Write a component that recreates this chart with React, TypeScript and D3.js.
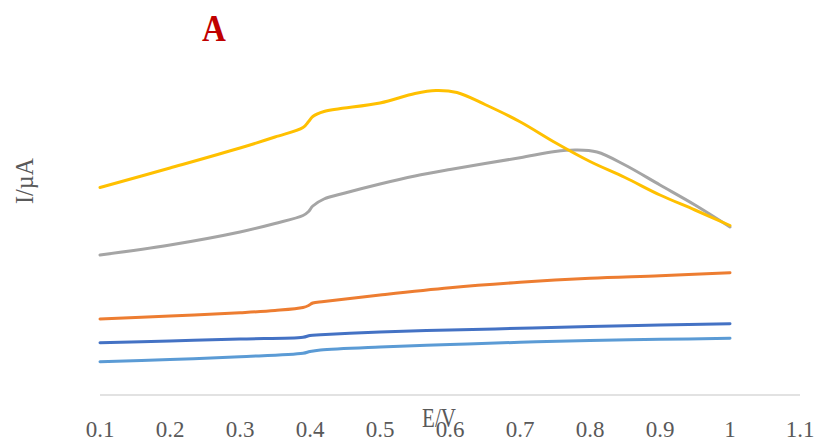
import React from "react";
import * as d3 from "d3";

const xTicks = [0.1, 0.2, 0.3, 0.4, 0.5, 0.6, 0.7, 0.8, 0.9, 1, 1.1];

const yellowE = [0.1, 0.2, 0.3, 0.35, 0.39, 0.398, 0.404, 0.42, 0.5, 0.55, 0.58, 0.61, 0.65, 0.7, 0.75, 0.8, 0.85, 0.9, 0.95, 1.0];
const yellowI = [20.75, 22.7, 24.7, 25.8, 26.75, 27.35, 27.85, 28.35, 29.2, 30.15, 30.45, 30.25, 29.05, 27.33, 25.25, 23.35, 21.75, 20.0, 18.5, 16.95];

const grayE = [0.1, 0.2, 0.3, 0.35, 0.39, 0.398, 0.404, 0.42, 0.45, 0.5, 0.55, 0.6, 0.7, 0.75, 0.78, 0.81, 0.85, 0.9, 0.95, 1.0];
const grayI = [14.0, 15.0, 16.3, 17.15, 17.95, 18.35, 18.9, 19.6, 20.2, 21.1, 21.9, 22.55, 23.73, 24.35, 24.5, 24.3, 23.0, 21.0, 19.0, 16.8];

const orangeE = [0.1, 0.2, 0.3, 0.35, 0.39, 0.398, 0.404, 0.42, 0.5, 0.6, 0.7, 0.8, 0.9, 1.0];
const orangeI = [7.6, 7.9, 8.23, 8.45, 8.75, 8.95, 9.2, 9.35, 10.0, 10.73, 11.27, 11.67, 11.93, 12.23];

const darkBlueE = [0.1, 0.2, 0.3, 0.39, 0.4, 0.415, 0.5, 0.6, 0.7, 0.8, 0.9, 1.0];
const darkBlueI = [5.23, 5.4, 5.6, 5.77, 5.95, 6.02, 6.3, 6.5, 6.67, 6.85, 7.0, 7.13];

const lightBlueE = [0.1, 0.2, 0.3, 0.39, 0.4, 0.415, 0.5, 0.6, 0.7, 0.8, 0.9, 1.0];
const lightBlueI = [3.33, 3.55, 3.83, 4.17, 4.35, 4.5, 4.8, 5.05, 5.27, 5.45, 5.57, 5.67];

const series = [
  { name: "light", E: lightBlueE, I: lightBlueI, color: "#5B9BD5" },
  { name: "dark", E: darkBlueE, I: darkBlueI, color: "#4472C4" },
  { name: "orange", E: orangeE, I: orangeI, color: "#ED7D31" },
  { name: "gray", E: grayE, I: grayI, color: "#A5A5A5" },
  { name: "yellow", E: yellowE, I: yellowI, color: "#FFC000" },
];

export default function App() {
  const W = 817, H = 442;
  const x = d3.scaleLinear().domain([0.1, 1.1]).range([100, 800]);
  const y = d3.scaleLinear().domain([0, 35]).range([395, 45]);
  const line = d3
    .line<[number, number]>()
    .x((d) => x(d[0]))
    .y((d) => y(d[1]))
    .curve(d3.curveCatmullRom.alpha(0.5));
  const font = "'Liberation Serif', 'Times New Roman', serif";
  return (
    <svg width={W} height={H} style={{ position: "absolute", left: 0, top: 0, background: "#fff" }}>
      <line x1={x(0.1)} x2={x(1.1)} y1={y(0)} y2={y(0)} stroke="#D9D9D9" strokeWidth={1.5} />
      {xTicks.map((t) => (
        <text key={t} x={x(t)} y={437} textAnchor="middle" fontFamily={font} fontSize={23} fill="#595959">
          {String(t)}
        </text>
      ))}
      {series.map((s) => (
        <path
          key={s.name}
          d={line(s.E.map((e, i) => [e, s.I[i]] as [number, number])) || ""}
          fill="none"
          stroke={s.color}
          strokeWidth={3}
          strokeLinecap="round"
          strokeLinejoin="round"
        />
      ))}
      <text
        transform="translate(439,427) scale(0.75,1)"
        textAnchor="middle"
        fontFamily={font}
        fontSize={28}
        fill="#595959"
      >
        E/V
      </text>
      <text
        transform="translate(33,181) rotate(-90) scale(0.93,1)"
        textAnchor="middle"
        fontFamily={font}
        fontSize={26}
        fill="#595959"
      >
        I/µA
      </text>
      <text
        transform="translate(214,41) scale(0.87,1)"
        textAnchor="middle"
        fontFamily={font}
        fontSize={38}
        fontWeight="bold"
        fill="#C00000"
      >
        A
      </text>
    </svg>
  );
}
